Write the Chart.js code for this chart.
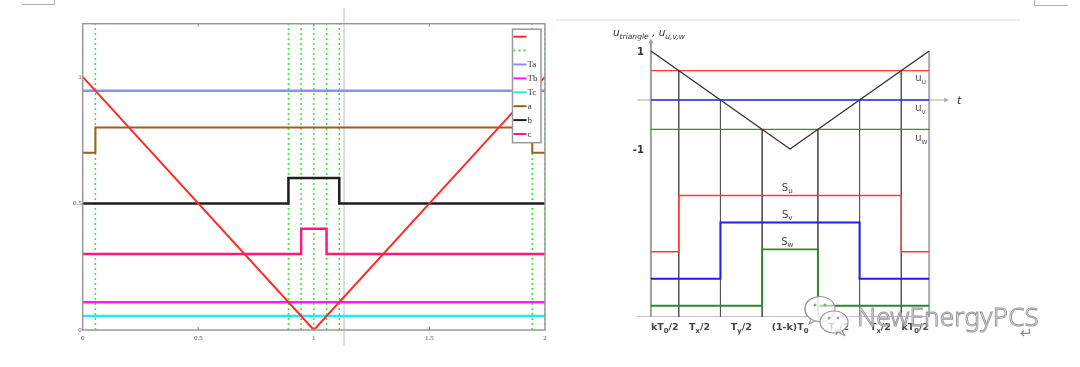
<!DOCTYPE html>
<html><head><meta charset="utf-8">
<script src="https://cdn.jsdelivr.net/npm/chart.js@4.4.1/dist/chart.umd.min.js"></script>
<style>
html,body{margin:0;padding:0;background:#fff;width:1080px;height:367px;overflow:hidden;}
canvas{position:absolute;left:0;top:0;}
.deco{position:absolute;}
#wm{position:absolute;left:857px;top:303px;font-family:"Noto Sans";font-weight:300;font-size:26px;line-height:26px;color:rgba(255,255,255,0.7);-webkit-text-stroke:1px #999;white-space:nowrap;letter-spacing:0.2px;}
#ret{position:absolute;left:1020px;top:326px;font-family:"DejaVu Sans";font-size:15px;line-height:15px;color:#8c8c8c;}
#icon{position:absolute;left:800px;top:294px;}
</style></head><body>
<div class="deco" style="left:22px;top:4px;width:32px;height:0;border-top:1.5px solid #b0b0b0"></div>
<div class="deco" style="left:54px;top:0;width:0;height:5px;border-left:1.5px solid #b0b0b0"></div>
<div class="deco" style="left:1034px;top:5px;width:34px;height:0;border-top:1.5px solid #b0b0b0"></div>
<div class="deco" style="left:1034px;top:0;width:0;height:6px;border-left:1.5px solid #b0b0b0"></div>
<div class="deco" style="left:556px;top:19px;width:464px;height:2px;background:#ededed"></div>
<canvas id="c1" width="1080" height="367"></canvas>
<canvas id="c2" width="1080" height="367"></canvas>
<svg id="icon" width="56" height="44" viewBox="0 0 56 44">
  <path d="M20 3 C9 3 5 9 5 15 C5 20 8 23 11 25 L9 30 L15 27 C17 27.5 19 28 21 28" fill="rgba(255,255,255,0.6)" stroke="#9a9a9a" stroke-width="1.2"/>
  <ellipse cx="20" cy="15" rx="15" ry="12.5" fill="rgba(255,255,255,0.6)" stroke="#9a9a9a" stroke-width="1.2"/>
  <circle cx="15" cy="11" r="1.4" fill="#9a9a9a"/><circle cx="25" cy="11" r="1.4" fill="#9a9a9a"/>
  <ellipse cx="34" cy="28" rx="14" ry="11" fill="rgba(255,255,255,0.75)" stroke="#9a9a9a" stroke-width="1.2"/>
  <path d="M42 37 L45 42 L39 38" fill="rgba(255,255,255,0.75)" stroke="#9a9a9a" stroke-width="1.2"/>
  <circle cx="29" cy="24" r="1.3" fill="#9a9a9a"/><circle cx="38" cy="24" r="1.3" fill="#9a9a9a"/>
</svg>
<div id="wm">NewEnergyPCS</div>
<div id="ret">↵</div>
<script>
// ---------------- LEFT CHART DATA ----------------
const leftXTicks = [0, 0.5, 1, 1.5, 2];
const leftYTicks = [0, 0.5, 1];
const leftTriX = [0, 1, 2];
const leftTriY = [1, 0, 1];
const dottedX = [0.055, 0.89, 0.945, 1.0, 1.055, 1.11, 1.945, 2.0];
const levelTa = 0.945;
const levelTb = 0.11;
const levelTc = 0.055;
const aX = [0, 0.055, 1.945, 2];
const aY = [0.7, 0.8, 0.7, 0.7];
const bX = [0, 0.89, 1.11, 2];
const bY = [0.5, 0.6, 0.5, 0.5];
const cX = [0, 0.945, 1.055, 2];
const cY = [0.3, 0.4, 0.3, 0.3];
const leftLegendLabels = ['', '', 'Ta', 'Tb', 'Tc', 'a', 'b', 'c'];
const cursorX = 1.131;

// ---------------- RIGHT CHART DATA ----------------
const rTriX = [0, 1, 2];
const rTriY = [1, -1, 1];
const levelUu = 0.6;
const levelUv = 0;
const levelUw = -0.6;
const suX = [0, 0.2, 1.8, 2];
const suY = [-3.1, -1.95, -3.1, -3.1];
const svX = [0, 0.5, 1.5, 2];
const svY = [-3.65, -2.5, -3.65, -3.65];
const swX = [0, 0.8, 1.2, 2];
const swY = [-4.2, -3.05, -4.2, -4.2];
const switchT = [0.2, 0.5, 0.8, 1.2, 1.5, 1.8];
const switchY = [0.6, 0, -0.6, -0.6, 0, 0.6];
const bottomLevel = -4.43;
const bottomLabelPos = [0.1, 0.35, 0.65, 1.0, 1.35, 1.65, 1.9];
const bottomLabels = [
  [['kT', 0], ['0', 1], ['/2', 0]],
  [['T', 0], ['x', 1], ['/2', 0]],
  [['T', 0], ['y', 1], ['/2', 0]],
  [['(1-k)T', 0], ['0', 1]],
  [['T', 0], ['y', 1], ['/2', 0]],
  [['T', 0], ['x', 1], ['/2', 0]],
  [['kT', 0], ['0', 1], ['/2', 0]]
];

const xy = (xs, ys) => xs.map((x, i) => ({x: x, y: ys[i]}));
const flat = (lvl, x0, x1) => [{x: x0, y: lvl}, {x: x1, y: lvl}];

// ---------------- LEFT CHART ----------------
const L_YMAX = 1.21;
const leftColors = ['#ff2a2a', '#3ae63a', '#8c8cff', '#ff1aff', '#1aeef0', '#9b5e23', '#1e1e1e', '#ff1a7a'];
const leftDotted = dottedX.flatMap(x => [{x: x, y: 0}, {x: x, y: L_YMAX}, {x: x, y: null}]);

const leftPlugin = {
  id: 'leftDeco',
  beforeDatasetsDraw(chart) {
    const ctx = chart.ctx, a = chart.chartArea, xs = chart.scales.x;
    ctx.save();
    ctx.strokeStyle = '#dcdcdc'; ctx.lineWidth = 2;
    const px = xs.getPixelForValue(cursorX);
    ctx.beginPath(); ctx.moveTo(px, a.top - 16); ctx.lineTo(px, a.bottom + 16); ctx.stroke();
    ctx.restore();
  },
  afterDatasetsDraw(chart) {
    const ctx = chart.ctx, a = chart.chartArea, xs = chart.scales.x;
    ctx.save();
    ctx.strokeStyle = '#999'; ctx.lineWidth = 1.5;
    ctx.strokeRect(a.left, a.top, a.right - a.left, a.bottom - a.top);
    ctx.lineWidth = 1; ctx.strokeStyle = '#888';
    leftXTicks.slice(1, -1).forEach(v => {
      const p = xs.getPixelForValue(v);
      ctx.beginPath(); ctx.moveTo(p, a.top); ctx.lineTo(p, a.top + 3); ctx.stroke();
      ctx.beginPath(); ctx.moveTo(p, a.bottom); ctx.lineTo(p, a.bottom - 3); ctx.stroke();
    });
    // legend box
    const bw = 28.5, bh = 113.5;
    const bx = a.right - 4 - bw, by = a.top + 5.5;
    ctx.fillStyle = '#fff';
    ctx.fillRect(bx, by, bw, bh);
    ctx.strokeStyle = '#9a9a9a'; ctx.lineWidth = 1.5;
    ctx.strokeRect(bx, by, bw, bh);
    const ds = chart.data.datasets;
    ctx.font = '9px "Liberation Serif"';
    ctx.textBaseline = 'middle'; ctx.textAlign = 'left';
    for (let i = 0; i < leftLegendLabels.length; i++) {
      const y = by + 7.5 + i * 13.9;
      ctx.strokeStyle = ds[i].borderColor; ctx.lineWidth = 2;
      ctx.setLineDash(ds[i].borderDash || []);
      ctx.beginPath(); ctx.moveTo(bx + 1, y); ctx.lineTo(bx + 14, y); ctx.stroke();
      ctx.setLineDash([]);
      ctx.fillStyle = '#333';
      ctx.fillText(leftLegendLabels[i], bx + 15, y + 0.5);
    }
    ctx.restore();
  }
};

new Chart(document.getElementById('c1'), {
  type: 'line',
  data: {
    datasets: [
      {label: 'tri', data: xy(leftTriX, leftTriY), borderColor: leftColors[0], borderWidth: 2, order: 0},
      {label: 'dots', data: leftDotted, borderColor: leftColors[1], borderWidth: 1.5, borderDash: [2, 3], spanGaps: false, order: 5},
      {label: 'Ta', data: flat(levelTa, 0, 2), borderColor: leftColors[2], borderWidth: 2.5, order: 1},
      {label: 'Tb', data: flat(levelTb, 0, 2), borderColor: leftColors[3], borderWidth: 2.5, order: 1},
      {label: 'Tc', data: flat(levelTc, 0, 2), borderColor: leftColors[4], borderWidth: 2.5, order: 1},
      {label: 'a', data: xy(aX, aY), borderColor: leftColors[5], borderWidth: 2, stepped: 'before', order: 1},
      {label: 'b', data: xy(bX, bY), borderColor: leftColors[6], borderWidth: 2.5, stepped: 'before', order: 1},
      {label: 'c', data: xy(cX, cY), borderColor: leftColors[7], borderWidth: 2.5, stepped: 'before', order: 1}
    ]
  },
  options: {
    responsive: false, animation: false, events: [],
    elements: {point: {radius: 0}, line: {tension: 0, borderCapStyle: 'butt'}},
    layout: {padding: {left: 70.7, top: 23.7, right: 535, bottom: 22}},
    plugins: {legend: {display: false}, tooltip: {enabled: false}},
    scales: {
      x: {type: 'linear', min: 0, max: 2,
        afterBuildTicks: s => { s.ticks = leftXTicks.map(v => ({value: v})); },
        afterFit: s => { s.height = 15; },
        grid: {display: false, drawTicks: false}, border: {display: false},
        ticks: {font: {family: 'Liberation Serif', size: 7}, color: '#555', padding: 4, callback: v => String(v), maxRotation: 0}
      },
      y: {type: 'linear', min: 0, max: L_YMAX,
        afterBuildTicks: s => { s.ticks = leftYTicks.map(v => ({value: v})); },
        afterFit: s => { s.width = 12; },
        grid: {display: false, drawTicks: false}, border: {display: false},
        ticks: {font: {family: 'Liberation Serif', size: 7}, color: '#555', padding: 1, callback: v => String(v)}
      }
    }
  },
  plugins: [leftPlugin]
});

// ---------------- RIGHT CHART ----------------
function richText(ctx, x, y, parts, align, size, family, color, style) {
  const st = style || '';
  let w = 0;
  parts.forEach(p => {
    ctx.font = st + ' ' + (p[1] ? size * 0.72 : size) + 'px ' + family;
    w += ctx.measureText(p[0]).width;
  });
  let cx = align === 'center' ? x - w / 2 : (align === 'right' ? x - w : x);
  ctx.fillStyle = color; ctx.textAlign = 'left'; ctx.textBaseline = 'alphabetic';
  parts.forEach(p => {
    ctx.font = st + ' ' + (p[1] ? size * 0.72 : size) + 'px ' + family;
    ctx.fillText(p[0], cx, y + (p[1] ? size * 0.28 : 0));
    cx += ctx.measureText(p[0]).width;
  });
}

const rightPlugin = {
  id: 'rightDeco',
  afterDatasetsDraw(chart) {
    const ctx = chart.ctx, a = chart.chartArea, xs = chart.scales.x, ys = chart.scales.y;
    const px = v => xs.getPixelForValue(v), py = v => ys.getPixelForValue(v);
    ctx.save();
    const fam = '"DejaVu Sans"';
    richText(ctx, px(0) - 7, py(1) + 4, [['1', 0]], 'right', 10, fam, '#333', 'bold');
    richText(ctx, px(0) - 7, py(-1) + 4, [['-1', 0]], 'right', 10, fam, '#333', 'bold');
    richText(ctx, px(1.9), py(levelUu - 0.14) + 4, [['u', 0], ['u', 1]], 'left', 10, fam, '#555');
    richText(ctx, px(1.9), py(levelUv - 0.15) + 4, [['u', 0], ['v', 1]], 'left', 10, fam, '#555');
    richText(ctx, px(1.9), py(levelUw - 0.15) + 4, [['u', 0], ['w', 1]], 'left', 10, fam, '#555');
    richText(ctx, px(0.98), py(suY[1] + 0.16) + 3, [['S', 0], ['u', 1]], 'center', 10, fam, '#444');
    richText(ctx, px(0.98), py(svY[1] + 0.16) + 3, [['S', 0], ['v', 1]], 'center', 10, fam, '#444');
    richText(ctx, px(0.98), py(swY[1] + 0.16) + 3, [['S', 0], ['w', 1]], 'center', 10, fam, '#444');
    richText(ctx, a.right + 7, py(0) + 4, [['t', 0]], 'left', 11, fam, '#333', 'italic');
    richText(ctx, px(0) - 38, a.top - 3, [['u', 0], ['triangle', 1], [' , ', 0], ['u', 0], ['u,v,w', 1]], 'left', 10.5, fam, '#333', 'italic');
    bottomLabelPos.forEach((v, i) => {
      richText(ctx, px(v), py(bottomLevel) + 13, bottomLabels[i], 'center', 9.5, fam, '#444', 'bold');
    });
    ctx.restore();
  }
};

const vertLines = switchT.flatMap((t, i) => [{x: t, y: switchY[i]}, {x: t, y: bottomLevel}, {x: t, y: null}]);

new Chart(document.getElementById('c2'), {
  type: 'line',
  data: {
    datasets: [
      {label: 'triangle', data: xy(rTriX, rTriY), borderColor: '#333', borderWidth: 1.4},
      {label: 'uu', data: flat(levelUu, 0, 2), borderColor: '#ff3a3a', borderWidth: 1.4},
      {label: 'uv', data: flat(levelUv, 0, 2), borderColor: '#2a2ae8', borderWidth: 1.4},
      {label: 'uw', data: flat(levelUw, 0, 2), borderColor: '#2e8e2e', borderWidth: 1.4},
      {label: 'Su', data: xy(suX, suY), borderColor: '#ff3a3a', borderWidth: 1.5, stepped: 'before'},
      {label: 'Sv', data: xy(svX, svY), borderColor: '#1f1fe6', borderWidth: 2, stepped: 'before'},
      {label: 'Sw', data: xy(swX, swY), borderColor: '#2a8a2a', borderWidth: 1.8, stepped: 'before'},
      {label: 'verticals', data: vertLines, borderColor: '#555', borderWidth: 1, spanGaps: false},
      {label: 'right edge', data: [{x: 2, y: rTriY[2]}, {x: 2, y: bottomLevel}], borderColor: '#aaa', borderWidth: 2},
      {label: 'y axis', data: [{x: 0, y: bottomLevel}, {x: 0, y: 1.19}], borderColor: '#a0a0a0', borderWidth: 2,
        pointRadius: [0, 3], pointStyle: 'triangle', pointBackgroundColor: '#a0a0a0', pointBorderColor: '#a0a0a0', pointBorderWidth: 0},
      {label: 't axis', data: [{x: -0.103, y: 0}, {x: 2.12, y: 0}], borderColor: '#aaa', borderWidth: 1,
        pointRadius: [0, 3], pointStyle: 'triangle', pointRotation: [0, 90], pointBackgroundColor: '#aaa', pointBorderColor: '#aaa', pointBorderWidth: 0},
      {label: 'base', data: [{x: -0.115, y: bottomLevel}, {x: 2.0, y: bottomLevel}], borderColor: '#c4c4c4', borderWidth: 2}
    ]
  },
  options: {
    responsive: false, animation: false, events: [],
    elements: {point: {radius: 0}, line: {tension: 0, borderCapStyle: 'butt'}},
    layout: {padding: {left: 637, top: 38.75, right: 130, bottom: 50}},
    plugins: {legend: {display: false}, tooltip: {enabled: false}},
    scales: {
      x: {type: 'linear', min: -0.1, max: 2.15, display: false},
      y: {type: 'linear', min: bottomLevel, max: 1.25, display: false}
    }
  },
  plugins: [rightPlugin]
});
</script>
</body></html>
